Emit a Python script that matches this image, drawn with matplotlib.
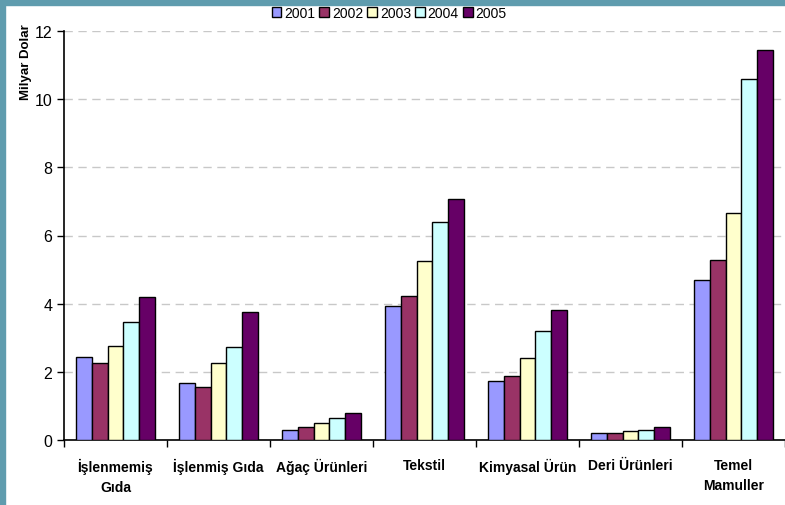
import matplotlib.pyplot as plt
import matplotlib.patches as mpatches
import numpy as np

plt.rcParams['font.family'] = ['Liberation Sans', 'DejaVu Sans']

categories = ["İşlenmemiş\nGıda", "İşlenmiş Gıda", "Ağaç Ürünleri", "Tekstil",
              "Kimyasal Ürün", "Deri Ürünleri", "Temel\nMamuller"]
years = ["2001", "2002", "2003", "2004", "2005"]
values = {
    "2001": [2.44, 1.68, 0.30, 3.93, 1.72, 0.20, 4.69],
    "2002": [2.25, 1.55, 0.39, 4.23, 1.87, 0.20, 5.28],
    "2003": [2.77, 2.25, 0.49, 5.25, 2.40, 0.27, 6.67],
    "2004": [3.45, 2.74, 0.64, 6.41, 3.19, 0.30, 10.58],
    "2005": [4.20, 3.75, 0.79, 7.07, 3.81, 0.39, 11.44],
}
colors = ["#9999FF", "#993366", "#FFFFCC", "#CCFFFF", "#660066"]

fig = plt.figure(figsize=(7.85, 5.06), dpi=100)
ax = fig.add_axes([64/785, 65/506, 721/785, 409/506])

x = np.arange(len(categories))
w = 0.153
for i, yr in enumerate(years):
    ax.bar(x + (i - 2) * w, values[yr], w, color=colors[i], edgecolor="black",
           linewidth=1.0, label=yr, zorder=3)

ax.set_ylim(0, 12)
ax.set_xlim(-0.5, 6.453)
ax.set_yticks(range(0, 13, 2))
ax.yaxis.grid(True, color="#c8c8c8", linestyle=(0, (6, 4)), linewidth=1, zorder=0)
ax.set_xticks(np.arange(-0.5, 7, 1), minor=False)
ax.set_xticklabels([])
ax.set_xticks(x, minor=True)
ax.set_xticklabels(categories, minor=True, fontweight="bold", fontsize=10,
                   linespacing=1.5)
ax.tick_params(axis="x", which="minor", length=0, pad=13)
ax.tick_params(axis="x", which="major", length=5, direction="out", width=1)
ax.tick_params(axis="y", length=5, direction="out", labelsize=11.5, width=1)
for lbl in ax.get_xticklabels(minor=True):
    lbl.set_verticalalignment("top")
for s in ["top", "right"]:
    ax.spines[s].set_visible(False)
ax.spines["left"].set_linewidth(1.2)
ax.spines["bottom"].set_linewidth(1.2)

fig.text(26/785, 1 - 62/506, "Milyar Dolar", rotation=90,
         fontweight="bold", fontsize=9.5, ha="center", va="center")

ax.legend(loc="upper center", bbox_to_anchor=(0.451, 1.075), ncol=5,
          frameon=False, fontsize=10, handlelength=0.7, handleheight=0.7,
          handletextpad=0.2, columnspacing=0.3, borderaxespad=0)

# teal frame strips at left and top
border = "#5f9cae"
fig.patches.append(mpatches.Rectangle((0, 0), 5/785, 1, transform=fig.transFigure,
                                      color=border, zorder=10))
fig.patches.append(mpatches.Rectangle((0, 1 - 6/506), 1, 6/506, transform=fig.transFigure,
                                      color=border, zorder=10))

fig.savefig("out.png", dpi=100)
